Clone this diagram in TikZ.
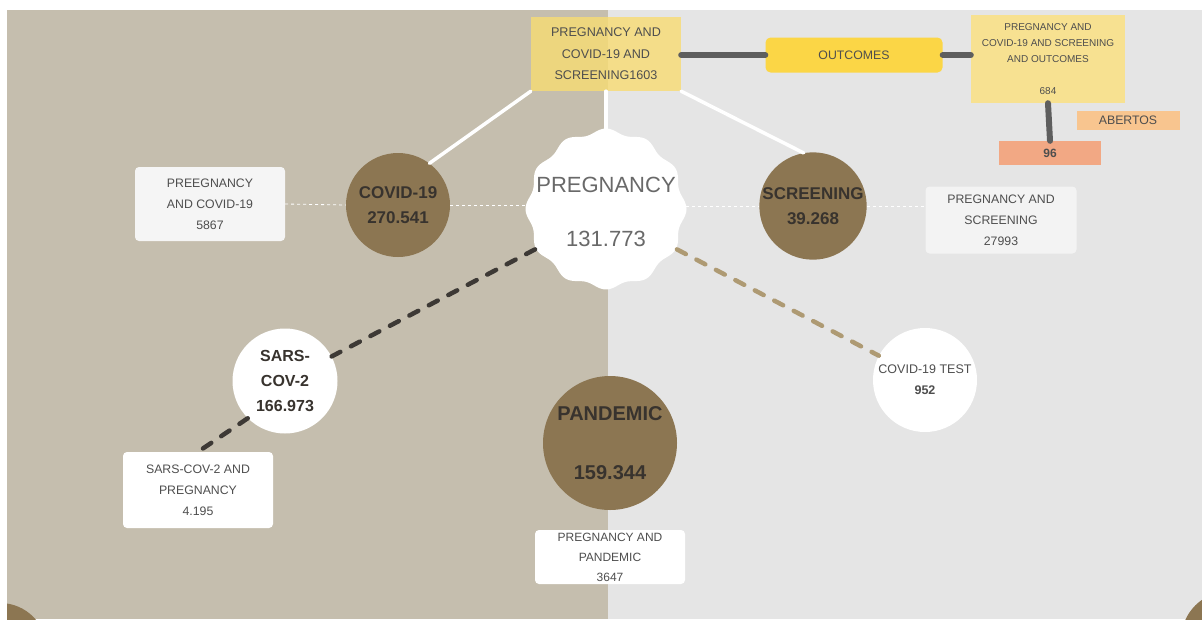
\documentclass[tikz,border=0pt]{standalone}
\usepackage{fontspec}
\setmainfont{Liberation Sans}
\definecolor{tanbg}{HTML}{C5BEAE}
\definecolor{greybg}{HTML}{E5E5E5}
\definecolor{brownc}{HTML}{8C7652}
\definecolor{inkd}{HTML}{38332E}
\definecolor{inkl}{HTML}{4E4E4E}
\definecolor{yel}{HTML}{F8DC72}
\definecolor{gold}{HTML}{FBD646}
\definecolor{paleyel}{HTML}{F7E191}
\definecolor{peach}{HTML}{F8C58F}
\definecolor{salmon}{HTML}{F2A884}
\definecolor{linkg}{HTML}{5E5E5E}
\definecolor{darkdash}{HTML}{3D3935}
\definecolor{tandash}{HTML}{AE9A73}
\begin{document}
\begin{tikzpicture}[x=1pt,y=-1pt,line cap=round,
	bub/.style={circle,inner sep=0pt,minimum size=104pt,fill=brownc,align=center,text=inkd,font=\bfseries\fontsize{17}{25}\selectfont},
	card/.style={rectangle,rounded corners=4pt,inner sep=0pt,fill=white,align=center,text=inkl,minimum width=150pt,font=\fontsize{12.3}{21}\selectfont},
	tag/.style={rectangle,inner sep=0pt,align=center,text=inkl,font=\fontsize{12.3}{16}\selectfont},
	wline/.style={white,line width=3.5pt},
	wdash/.style={white,dashed,line width=0.8pt,line cap=butt},
	gline/.style={linkg,line width=6pt},
	bdash/.style={line width=4.5pt,dash pattern=on 10pt off 12pt}]
	\useasboundingbox (0,0) rectangle (1202,619);
	% two halves of the page
	\fill[tanbg] (7,10) rectangle (608,619);
	\fill[greybg] (608,10) rectangle (1202,619);
	\begin{scope}
		\clip (7,10) rectangle (1202,619);
		\fill[brownc] (0,650) circle[radius=47pt];
		\fill[brownc] (1230,640) circle[radius=49pt];
	\end{scope}
	% wavy centre badge
	\fill[white,smooth,samples=240,domain=0:360] plot({606+(78+2.5*cos(12*\x))*cos(\x)},{209+(78+2.5*cos(12*\x))*sin(\x)}) -- cycle;
	\node[circle,inner sep=0pt,minimum size=160pt,align=center,text=inkl!85,font=\fontsize{22}{54}\selectfont] (preg) at (606,212) {PREGNANCY\\131.773};
	% top row
	\node[rectangle,fill=yel,fill opacity=0.8,text opacity=1,minimum width=150pt,minimum height=74pt,inner sep=0pt,align=center,text=inkl,font=\fontsize{12.6}{21.5}\selectfont] (topbox) at (606,54) {PREGNANCY AND\\COVID-19 AND\\SCREENING1603};
	\node[tag,fill=gold,rounded corners=5pt,minimum width=177pt,minimum height=35pt] (outc) at (854,55) {OUTCOMES};
	\node[tag,fill=paleyel,minimum width=154pt,minimum height=88pt,font=\fontsize{10}{16}\selectfont] (resbox) at (1048,59) {PREGNANCY AND\\COVID-19 AND SCREENING\\AND OUTCOMES\\[16pt]684};
	\node[tag,fill=peach,minimum width=103pt,minimum height=19pt] (abert) at (1128,120) {ABERTOS};
	\node[tag,fill=salmon,minimum width=102pt,minimum height=24pt,font=\bfseries\fontsize{12}{16}\selectfont] (n96) at (1050,153) {96};
	% circles
	\node[bub] (covid) at (398,205) {COVID-19\\270.541};
	\node[bub] (screen) at (813,206) {SCREENING\\39.268};
	\node[bub,fill=white,minimum size=105pt,font=\bfseries\fontsize{16}{25}\selectfont] (sars) at (285,381) {SARS-\\COV-2\\166.973};
	\node[bub,fill=white,font=\fontsize{12.5}{21}\selectfont,text=inkl] (test) at (925,380) {COVID-19 TEST\\\textbf{952}};
	\node[bub,minimum size=134pt,font=\bfseries\fontsize{20}{24}\selectfont] (pand) at (610,443) {PANDEMIC\\[35pt]159.344};
	% cards
	\node[card,fill=white!60!greybg,minimum height=74pt] (pcbox) at (210,204) {PREEGNANCY\\AND COVID-19\\5867};
	\node[card,fill=white!55!greybg,minimum width=151pt,minimum height=67pt] (psbox) at (1001,220) {PREGNANCY AND\\SCREENING\\27993};
	\node[card,minimum height=76pt] (sarsbox) at (198,490) {SARS-COV-2 AND\\PREGNANCY\\4.195};
	\node[card,minimum height=54pt,font=\fontsize{12}{20}\selectfont] (pandbox) at (610,557) {PREGNANCY AND\\PANDEMIC\\3647};
	% links
	\draw[wline] (topbox.south west) -- (covid.53);
	\draw[wline] (topbox.south east) -- (screen.100);
	\draw[wline] (topbox.south) -- (preg.north);
	\draw[wdash] (pcbox.east) -- (covid.west);
	\draw[wdash] (covid.east) -- (covid.east -| preg.west);
	\draw[wdash] (preg.east |- screen.west) -- (screen.west);
	\draw[wdash] (screen.east) -- (screen.east -| psbox.west);
	\draw[gline] (topbox.east |- outc.west) -- (outc.west);
	\draw[gline] (outc.east) -- (outc.east -| resbox.west);
	\draw[gline] (resbox.south) -- (n96.north);
	\draw[bdash,darkdash] (preg) -- (sars);
	\draw[bdash,darkdash] (sars.225) -- (sarsbox.north);
	\draw[bdash,tandash] (preg) -- (test);
\end{tikzpicture}
\end{document}
